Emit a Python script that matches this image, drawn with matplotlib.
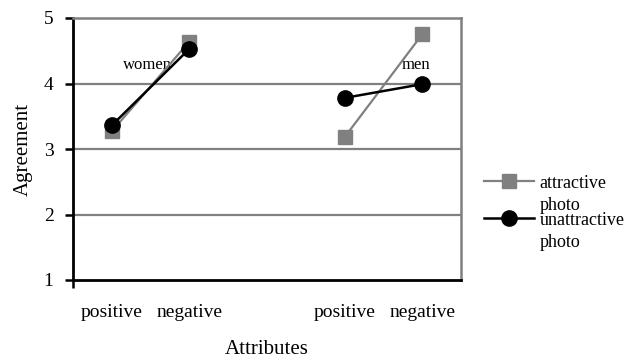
import matplotlib
matplotlib.use("Agg")
import matplotlib.pyplot as plt
from matplotlib.legend_handler import HandlerLine2D
import numpy as np

categories = ["positive", "negative", "", "positive", "negative"]
attractive = [3.27, 4.64, np.nan, 3.18, 4.75]
unattractive = [3.36, 4.53, np.nan, 3.78, 3.99]
yticks = [1, 2, 3, 4, 5]
group_labels = ["women", "men"]

plt.rcParams['font.family'] = ['Liberation Serif', 'DejaVu Serif']

fig = plt.figure(figsize=(6.42, 3.6), dpi=100)
ax = fig.add_axes([73/642, 80/360, 388/642, 262/360])

x = np.arange(len(categories))
GREY = "#808080"
ax.plot(x, attractive, color=GREY, lw=1.6, marker="s", ms=10, mfc=GREY, mec=GREY,
        label="attractive\nphoto", zorder=3)
ax.plot(x, unattractive, color="black", lw=1.8, marker="o", ms=11, mfc="black", mec="black",
        label="unattractive\nphoto", zorder=4)

ax.set_xlim(-0.5, len(categories) - 0.5)
ax.set_ylim(1, 5)
ax.set_yticks(yticks)
ax.set_yticklabels([str(v) for v in yticks], fontsize=14)
ax.set_xticks(x)
ax.set_xticklabels(categories, fontsize=14)
ax.tick_params(axis="x", length=0, pad=17)
ax.tick_params(axis="y", direction="out", length=6, width=1.8, pad=8, color="black")
ax.set_xticks([-0.5], minor=True)
ax.tick_params(axis="x", which="minor", direction="out", length=6, width=1.8, color="black")

for yv in yticks[1:4]:
    ax.axhline(yv, color=GREY, lw=1.6, zorder=1)

for side in ("top", "right"):
    ax.spines[side].set_color(GREY)
    ax.spines[side].set_linewidth(1.8)
for side in ("left", "bottom"):
    ax.spines[side].set_color("black")
    ax.spines[side].set_linewidth(2)

ax.text(0.46, 4.28, group_labels[0], fontsize=12, ha="center", va="center", zorder=2)
ax.text(3.92, 4.28, group_labels[1], fontsize=12, ha="center", va="center", zorder=2)

ax.set_ylabel("Agreement", fontsize=15, labelpad=8)
ax.set_xlabel("Attributes", fontsize=15, labelpad=14)


class UpperLine(HandlerLine2D):
    def create_artists(self, legend, orig_handle, xdescent, ydescent, width, height,
                       fontsize, trans):
        arts = super().create_artists(legend, orig_handle, xdescent, ydescent, width,
                                      height, fontsize, trans)
        for a in arts:
            yd = np.asarray(a.get_ydata(), dtype=float) + 9.8
            a.set_ydata(yd)
        return arts


leg = ax.legend(loc="center left", bbox_to_anchor=(1.04, 0.255), frameon=False,
                fontsize=13, handlelength=2.8, handletextpad=0.3, labelspacing=-0.1,
                handler_map={plt.Line2D: UpperLine()}, borderaxespad=0)
for t in leg.get_texts():
    t.set_linespacing(1.4)

fig.savefig("out.png", dpi=100)
